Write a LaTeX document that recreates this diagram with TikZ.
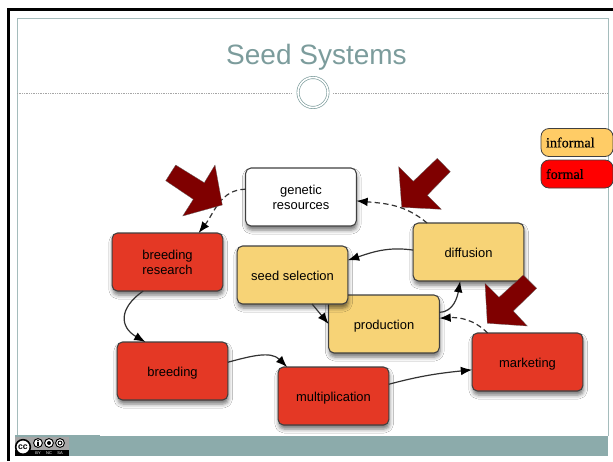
\documentclass[tikz,border=0pt]{standalone}
\usepackage{fontspec}
\setmainfont{Liberation Sans}
\newfontfamily\legendfont[FakeBold=0.35]{Liberation Serif}
\usetikzlibrary{arrows.meta,shadows,shadows.blur}
\definecolor{formalred}{HTML}{E43825}
\definecolor{informalyellow}{HTML}{F7D376}
\definecolor{keyyellow}{HTML}{FFCC66}
\definecolor{darkarrow}{HTML}{7F0000}
\definecolor{bandteal}{HTML}{8CABAB}
\definecolor{frameteal}{HTML}{A5BCBC}
\definecolor{titleteal}{HTML}{7C9C9C}
\tikzset{
  stepbox/.style = {draw=black!75, line width=0.8pt, rounded corners=4pt, outer sep=0pt,
    minimum width=83pt, minimum height=43.5pt, align=center,
    font=\fontsize{9.7}{11.3}\selectfont,
    blur shadow={shadow xshift=0.5pt, shadow yshift=-3pt, shadow blur radius=3pt, shadow opacity=55}},
  oneline/.style = {text height=7.5pt, text depth=0pt},
  formalbox/.style = {stepbox, fill=formalred},
  informalbox/.style = {stepbox, fill=informalyellow},
  keybox/.style = {draw=black!75, line width=0.6pt, rounded corners=6pt, outer sep=0pt,
    minimum height=21pt, text width=46.5pt, inner xsep=3.75pt, align=left,
    font=\legendfont\fontsize{10.6}{12}\selectfont},
  conn/.style = {draw=black!80, line width=0.9pt, -{Latex[length=8.5pt,width=6.5pt,black]}},
  dashconn/.style = {conn, dash pattern=on 4pt off 2.5pt},
  bigarrow/.style = {fill=darkarrow, draw=black!60, line width=0.2pt},
  ccdot/.style = {circle, draw=black, fill=white, line width=0.7pt, minimum size=6.6pt, inner sep=0pt}
}
\begin{document}
\begin{tikzpicture}[x=0.75pt, y=-0.75pt]
\useasboundingbox (0,0) rectangle (613,461);
\fill[white] (0,0) rectangle (613,461);

% slide frame
\draw[frameteal, line width=0.7pt] (17,436) -- (17,18) -- (608,18) -- (608,436);
\fill[black] (7,8) rectangle (613,10.5);
\fill[black] (7,8) rectangle (10,461);
\fill[bandteal] (15,436) rectangle (608,456);
\fill[bandteal] (15,435) rectangle (100,437);

% title
\node (title) at (316.5,57) {\fontsize{21}{24}\selectfont\color{titleteal}Seed Systems};
\draw[black!35, line width=0.3pt, densely dotted] (17,93.5) -- (292,93.5);
\draw[black!35, line width=0.3pt, densely dotted] (333,93.5) -- (608,93.5);
\node (ring) [circle, draw=titleteal, double=white, double distance=1.2pt, line width=0.5pt,
  fill=white, minimum size=22.5pt, inner sep=0pt] at (313,92.5) {};

% legend
\node (informal) [keybox, fill=keyyellow] at (577,142.5) {informal};
\node (formal) [keybox, fill=red] at (577,174) {formal};

% boxes
\node (genetic) [stepbox, fill=white] at (301,197) {genetic\\resources};
\node (research) [formalbox] at (167.5,262) {breeding\\research};
\node (production) [informalbox, oneline] at (384,324) {production};
\node (selection) [informalbox, oneline] at (292.5,275) {seed selection};
\node (diffusion) [informalbox, oneline] at (468.5,252) {diffusion};
\node (marketing) [formalbox, oneline] at (527.5,362) {marketing};
\node (breeding) [formalbox, oneline] at (172.5,371) {breeding};
\node (multiplication) [formalbox, oneline] at (333.5,396) {multiplication};

% connectors
\draw[dashconn] (genetic.172) to[out=180, in=52] (research.43);
\draw[dashconn] (diffusion.145) to[out=140, in=-5] (genetic.356);
\draw[conn] (diffusion.178) to[out=172, in=18] (selection.15);
\draw[conn] (production.12) to[out=0, in=-100] (diffusion.254);
\draw[dashconn] (marketing.144) to[out=135, in=3] (production.6);
\draw[conn] (selection.304) -- (production.180);
\draw[conn] (multiplication.12) to[out=15, in=186] (marketing.188);
\draw[conn] (breeding.9) to[out=15, in=135] (multiplication.148);
\draw[conn] (research.230) to[out=215, in=150, looseness=1.5] (breeding.133);

% big arrows
\draw[bigarrow] (175.7,165) -- (165.7,180.7) -- (193.3,199.3) -- (182.7,216) -- (222.3,205) -- (215,165) -- (204.3,182.7) -- cycle;
\draw[bigarrow] (437.3,158.3) -- (450.3,171.7) -- (427.3,195.3) -- (441.3,209.3) -- (401.7,207.3) -- (398.7,166.7) -- (413.3,181.3) -- cycle;
\draw[bigarrow] (523.3,275) -- (536.7,288.3) -- (513.3,311) -- (527.3,326) -- (487.3,323.3) -- (485,283.3) -- (499,297.3) -- cycle;

% licence badge
\fill[black!35] (15,437) rectangle (69,456);
\fill[black] (15,450) rectangle (69,456);
\node (cc) [circle, draw=black, fill=white, line width=1.2pt, minimum size=11pt, inner sep=0pt]
  at (23,447) {\fontsize{6.5}{7}\selectfont\bfseries cc};
\foreach \name/\xpos/\mark in {by/38/BY, nc/49/NC, sa/60/SA} {
  \node (\name) [ccdot] at (\xpos,443) {};
  \node (\name text) [text=white, inner sep=0pt] at (\xpos,453.2) {\fontsize{3}{3}\selectfont \mark};
}
\fill[black] (38,440.6) circle (0.9);
\fill[black] (36.9,441.8) rectangle (39.1,445.6);
\fill[black] (49,443) circle (2);
\draw[black, line width=0.7pt] (60,443) circle (2);
\end{tikzpicture}
\end{document}
